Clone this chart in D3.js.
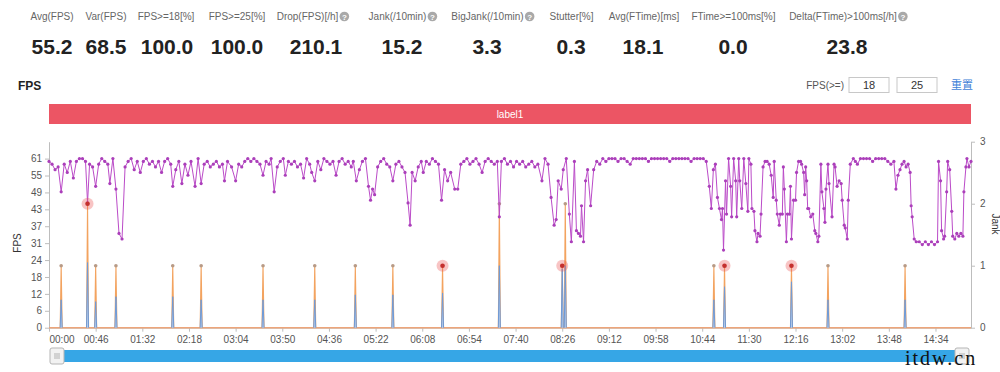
<!DOCTYPE html>
<html>
<head>
<meta charset="utf-8">
<script src="https://cdn.jsdelivr.net/npm/d3@7"></script>
<style>
body { margin: 0; background: #fff; }
svg text { font-family: "Liberation Sans", Arial, sans-serif; }
</style>
</head>
<body>
<div id="chart-area"></div>
<script>
// header stats
let statLabels = ["Avg(FPS)", "Var(FPS)", "FPS>=18[%]", "FPS>=25[%]", "Drop(FPS)[/h]", "Jank(/10min)",
    "BigJank(/10min)", "Stutter[%]", "Avg(FTime)[ms]", "FTime>=100ms[%]", "Delta(FTime)>100ms[/h]"];
let statValues = ["55.2", "68.5", "100.0", "100.0", "210.1", "15.2", "3.3", "0.3", "18.1", "0.0", "23.8"];
let statHelp = [false, false, false, false, true, true, true, false, false, false, true];

// FPS line: [second, fps]
let fpsSeries = [
    [0,60],[3,59],[6,57],[9,58],[12,49],[15,59],[18,56],[21,60],[24,54],[27,60],[30,61],[33,61],[36,60],[38,45],[40,59],
    [43,58],[46,51],[49,59],[52,61],[55,60],[58,59],[60,52],[63,61],[66,50],[69,34],[72,32],[75,58],[78,60],[81,61],[84,57],
    [87,60],[90,56],[93,60],[96,61],[99,59],[102,60],[105,58],[108,60],[111,56],[114,60],[117,61],[120,59],[122,51],[125,57],
    [128,60],[131,52],[134,59],[137,55],[140,60],[144,51],[147,61],[150,52],[153,59],[156,60],[159,58],[162,59],[165,60],
    [168,58],[171,59],[173,53],[176,60],[180,58],[184,53],[187,59],[190,58],[193,60],[196,61],[199,60],[202,61],[205,60],
    [208,59],[211,55],[214,60],[217,59],[219,61],[222,49],[225,58],
    [228,60],[231,61],[233,55],[236,60],[239,59],[242,60],[245,58],[248,59],[251,54],[254,61],[257,59],[259,56],[262,53],
    [265,60],[268,57],[271,61],[274,60],[277,59],[280,60],[283,55],[286,60],[289,61],[292,59],[295,60],[298,58],[300,60],
    [303,53],[306,57],[309,60],[312,61],[315,51],[317,46],[319,50],[321,48],[324,58],[327,60],[330,61],[333,59],[336,58],
    [339,53],[342,59],[345,60],[348,58],[351,56],[354,45],[356,37],[358,56],[361,53],[364,58],[367,60],[369,56],[372,60],
    [375,59],[378,61],[381,60],[384,59],[387,46],[390,57],[393,53],[396,56],[400,50],[403,50],[406,59],[409,60],[412,61],
    [415,59],[418,60],[421,61],[424,59],[427,56],[430,60],[433,61],[436,60],[439,59],[442,60],[444,40],[446,60],
    [449,61],[452,59],[455,60],[458,58],[461,60],[464,59],[467,60],[470,58],[473,59],[476,60],[479,58],[482,59],[486,53],
    [489,61],[492,59],[495,47],[498,37],[500,39],[502,53],[505,50],[507,57],[510,61],[513,41],[515,31],[518,60],[520,35],
    [522,34],[524,33],[525,44],[527,31],[529,53],[531,57],[534,44],[537,57],[540,60],[543,59],[546,61],[549,60],[552,61],
    [555,61],[558,61],[561,60],[564,61],[567,61],[570,60],[573,59],[576,61],[579,61],[582,61],[585,61],[588,61],[591,60],
    [594,61],[597,61],[600,61],[603,61],[606,61],[609,61],[612,60],[615,61],[618,61],[621,61],[624,61],[627,61],[630,61],
    [633,60],[636,61],[639,61],[642,61],[645,61],[648,60],
    [651,51],[653,43],[655,57],[657,59],[659,47],[661,43],[663,39],[664,43],[665,28],[667,53],[668,41],[670,61],[672,51],
    [673,40],[675,61],[677,53],[678,40],[680,61],[681,53],[683,43],[685,61],[687,52],[689,42],[690,61],[692,59],[693,43],
    [695,42],[696,35],[698,31],[699,34],[701,33],[702,41],[704,58],[706,60],[708,60],[710,59],[712,55],[714,47],[715,60],
    [717,46],[718,41],[720,37],[721,41],[723,41],[724,58],[725,50],[727,31],[728,41],[730,41],[731,51],[732,32],[734,46],
    [736,46],[737,56],[739,60],[741,60],[742,59],[744,56],[745,48],[746,58],[747,53],[748,43],[749,43],[751,40],[753,41],
    [755,35],[756,34],[758,31],[759,33],[761,59],[762,49],[764,43],[765,38],[766,50],[768,59],[769,52],[772,40],[774,59],
    [775,58],[777,51],[779,53],[781,52],[782,46],[784,37],[785,36],[787,32],[788,46],[790,59],
    [793,61],[795,60],[797,59],[800,61],[803,61],[806,61],[809,61],[812,60],[815,61],[818,61],[821,61],[824,61],[827,60],
    [830,59],[833,60],[835,50],[837,55],[839,57],[841,59],[843,60],[845,58],[847,59],[849,56],[850,44],[851,40],[853,32],
    [855,31],[858,31],[861,30],[864,31],[867,30],[870,31],[873,30],[876,31],[877,60],[879,53],[880,35],[882,32],[883,33],
    [885,49],[886,60],[888,57],[890,42],[891,33],[893,32],[895,34],[897,33],[899,34],[901,33],[902,49],[904,58],[905,61],
    [907,58],[909,60]
];

// jank spikes (right axis)
let jankSec = [12, 38, 46, 66, 122, 150, 211, 262, 302, 339, 388, 444, 506, 509, 655.5, 666, 732, 768, 844];
let jankVal = [1, 2, 1, 1, 1, 1, 1, 1, 1, 1, 1, 2, 1, 2, 1, 1, 1, 1, 1];
let stutterVal = [0.45, 1.05, 0.42, 0.5, 0.5, 0.45, 0.45, 0.45, 0.53, 0.53, 0.56, 1.0, 0.95, 1.0, 0.45, 0.66, 0.74, 0.45, 0.45];
let bigJankSec = [38, 388, 506, 666, 732];
let bigJankVal = [2, 1, 1, 1, 1];

let fpsTicks = [0, 6.1, 12.2, 18.3, 24.4, 30.5, 36.6, 42.7, 48.8, 54.9, 61];
let jankTicks = [0, 1, 2, 3];
let timeTicks = [0, 46, 92, 138, 184, 230, 276, 322, 368, 414, 460, 506, 552, 598, 644, 690, 736, 782, 828, 874];

let width = 1000, height = 372;
let plot = {left: 49, right: 971, top: 141.7, bottom: 327.7};

let svg = d3.select("#chart-area").append("svg")
    .attr("width", width)
    .attr("height", height);

// ---- header ----
let labelX = [52, 106, 166, 237, 307.5, 397.5, 487.5, 571.5, 644, 733.5, 843];
let valueX = [52, 106, 167, 237, 316, 402, 487, 571, 643, 733, 847];

let head = svg.append("g");
statLabels.forEach(function(lbl, i) {
    let t = head.append("text")
        .attr("x", labelX[i]).attr("y", 20)
        .attr("text-anchor", "middle")
        .attr("font-size", 10).attr("fill", "#666")
        .text(lbl);
    if (statHelp[i]) {
        let len = t.node().getComputedTextLength();
        let cx = labelX[i] + len / 2 + 6;
        head.append("circle").attr("cx", cx).attr("cy", 16.5).attr("r", 4.8).attr("fill", "#a9a9a9");
        head.append("text").attr("x", cx).attr("y", 19.5).attr("text-anchor", "middle")
            .attr("font-size", 8).attr("font-weight", "bold").attr("fill", "#fff").text("?");
    }
    head.append("text")
        .attr("x", valueX[i]).attr("y", 54)
        .attr("text-anchor", "middle")
        .attr("font-size", 21).attr("font-weight", "bold").attr("fill", "#222")
        .text(statValues[i]);
});

// ---- title row ----
svg.append("text").attr("x", 18).attr("y", 90)
    .attr("font-size", 12).attr("font-weight", "bold").attr("fill", "#222").text("FPS");

svg.append("text").attr("x", 844).attr("y", 89).attr("text-anchor", "end")
    .attr("font-size", 10).attr("fill", "#555").text("FPS(>=)");
[[849, "18"], [897, "25"]].forEach(function(b) {
    svg.append("rect").attr("x", b[0]).attr("y", 77.5).attr("width", 40).attr("height", 15)
        .attr("fill", "#fff").attr("stroke", "#c8c8c8");
    svg.append("text").attr("x", b[0] + 20).attr("y", 89).attr("text-anchor", "middle")
        .attr("font-size", 11).attr("fill", "#333").text(b[1]);
});
svg.append("text").attr("x", 951).attr("y", 89)
    .attr("font-size", 11).attr("fill", "#3f7fd8")
    .style("font-family", "'Noto Sans CJK SC', sans-serif").text("重置");

svg.append("rect").attr("x", plot.left).attr("y", 104).attr("width", plot.right - plot.left).attr("height", 20)
    .attr("fill", "#ec5564");
svg.append("text").attr("x", 510).attr("y", 117.5).attr("text-anchor", "middle")
    .attr("font-size", 10).attr("fill", "#fff").text("label1");

// ---- scales ----
let x = d3.scaleLinear().domain([0, 909]).range([plot.left, plot.right]);
let yFps = d3.scaleLinear().domain([0, 67.1]).range([plot.bottom, plot.top]);
let yJank = d3.scaleLinear().domain([0, 3]).range([plot.bottom, plot.top]);

function fmtTime(s) {
    let m = Math.floor(s / 60), r = s % 60;
    return (m < 10 ? "0" : "") + m + ":" + (r < 10 ? "0" : "") + r;
}

let xAxis = d3.axisBottom(x).tickValues(timeTicks).tickFormat(fmtTime)
    .tickSize(4).tickPadding(4).tickSizeOuter(0);
let yAxis = d3.axisLeft(yFps).tickValues(fpsTicks).tickFormat(d => Math.round(d))
    .tickSize(4).tickPadding(3).tickSizeOuter(0);
let jAxis = d3.axisRight(yJank).tickValues(jankTicks).tickFormat(d3.format("d"))
    .tickSize(4).tickPadding(5).tickSizeOuter(0);

let xAxisGroup = svg.append("g").attr("class", "axis")
    .attr("transform", "translate(0," + plot.bottom + ")").call(xAxis);
xAxisGroup.select(".tick text").attr("text-anchor", "start").attr("x", 0);
svg.append("g").attr("class", "axis").attr("transform", "translate(" + plot.left + ",0)").call(yAxis);
svg.append("g").attr("class", "axis").attr("transform", "translate(" + plot.right + ",0)").call(jAxis);

svg.selectAll(".axis .domain, .axis .tick line").attr("stroke", "#bdbdbd");
svg.selectAll(".axis text").attr("fill", "#555").attr("font-size", 10)
    .style("font-family", "'Liberation Sans', Arial, sans-serif");

svg.append("text").attr("transform", "translate(21,243) rotate(-90)")
    .attr("text-anchor", "middle").attr("font-size", 10).attr("fill", "#333").text("FPS");
svg.append("text").attr("transform", "translate(992,224) rotate(90)")
    .attr("text-anchor", "middle").attr("font-size", 10).attr("fill", "#333").text("Jank");

// ---- jank spikes ----
let spike = d3.line().x(d => x(d[0])).y(d => yJank(d[1]));

svg.append("line")
    .attr("x1", x(0)).attr("x2", x(909))
    .attr("y1", yJank(0)).attr("y2", yJank(0))
    .attr("stroke", "#eda57a").attr("stroke-width", 1.5);

jankSec.forEach(function(t, i) {
    svg.append("path")
        .attr("d", spike([[t - 1, 0], [t, jankVal[i]], [t + 1, 0]]))
        .attr("fill", "none").attr("stroke", "#f3a35f").attr("stroke-width", 1.1);
});
jankSec.forEach(function(t, i) {
    svg.append("path")
        .attr("d", spike([[t - 1, 0], [t, stutterVal[i]], [t + 1, 0]]))
        .attr("fill", "#b9cde9").attr("stroke", "#6f9ad6").attr("stroke-width", 1);
});
svg.selectAll(".jtop").data(jankSec).enter().append("circle")
    .attr("class", "jtop")
    .attr("cx", d => x(d)).attr("cy", (d, i) => yJank(jankVal[i]))
    .attr("r", 1.8).attr("fill", "#b79a86");

// ---- FPS line ----
let fpsLine = d3.line().x(d => x(d[0])).y(d => yFps(d[1]));
svg.append("path").datum(fpsSeries)
    .attr("d", fpsLine)
    .attr("fill", "none").attr("stroke", "#bb4bc8").attr("stroke-width", 1);
svg.selectAll(".fdot").data(fpsSeries).enter().append("circle")
    .attr("class", "fdot")
    .attr("cx", d => x(d[0])).attr("cy", d => yFps(d[1]))
    .attr("r", 1.6).attr("fill", "#ab3fba");

// ---- big jank marks ----
bigJankSec.forEach(function(t, i) {
    svg.append("circle").attr("cx", x(t)).attr("cy", yJank(bigJankVal[i]))
        .attr("r", 6).attr("fill", "rgba(236,86,86,0.35)");
    svg.append("circle").attr("cx", x(t)).attr("cy", yJank(bigJankVal[i]))
        .attr("r", 2.3).attr("fill", "#c4302e");
});

// ---- zoom slider ----
svg.append("rect").attr("x", 57).attr("y", 350).attr("width", 906).attr("height", 12)
    .attr("fill", "#36a6e6");
[50, 955].forEach(function(hx) {
    svg.append("rect").attr("x", hx).attr("y", 348).attr("width", 14).attr("height", 16).attr("rx", 2)
        .attr("fill", "#f2f2f2").attr("stroke", "#b5b5b5");
    [-2, 0, 2].forEach(function(o) {
        svg.append("line").attr("x1", hx + 7 + o).attr("x2", hx + 7 + o).attr("y1", 353).attr("y2", 359)
            .attr("stroke", "#999").attr("stroke-width", 0.7);
    });
});

// watermark
svg.append("text").attr("x", 905).attr("y", 365)
    .attr("font-size", 20).attr("fill", "#111").attr("letter-spacing", 2)
    .style("font-family", "'Liberation Serif', serif").text("itdw.cn");
</script>
</body>
</html>
